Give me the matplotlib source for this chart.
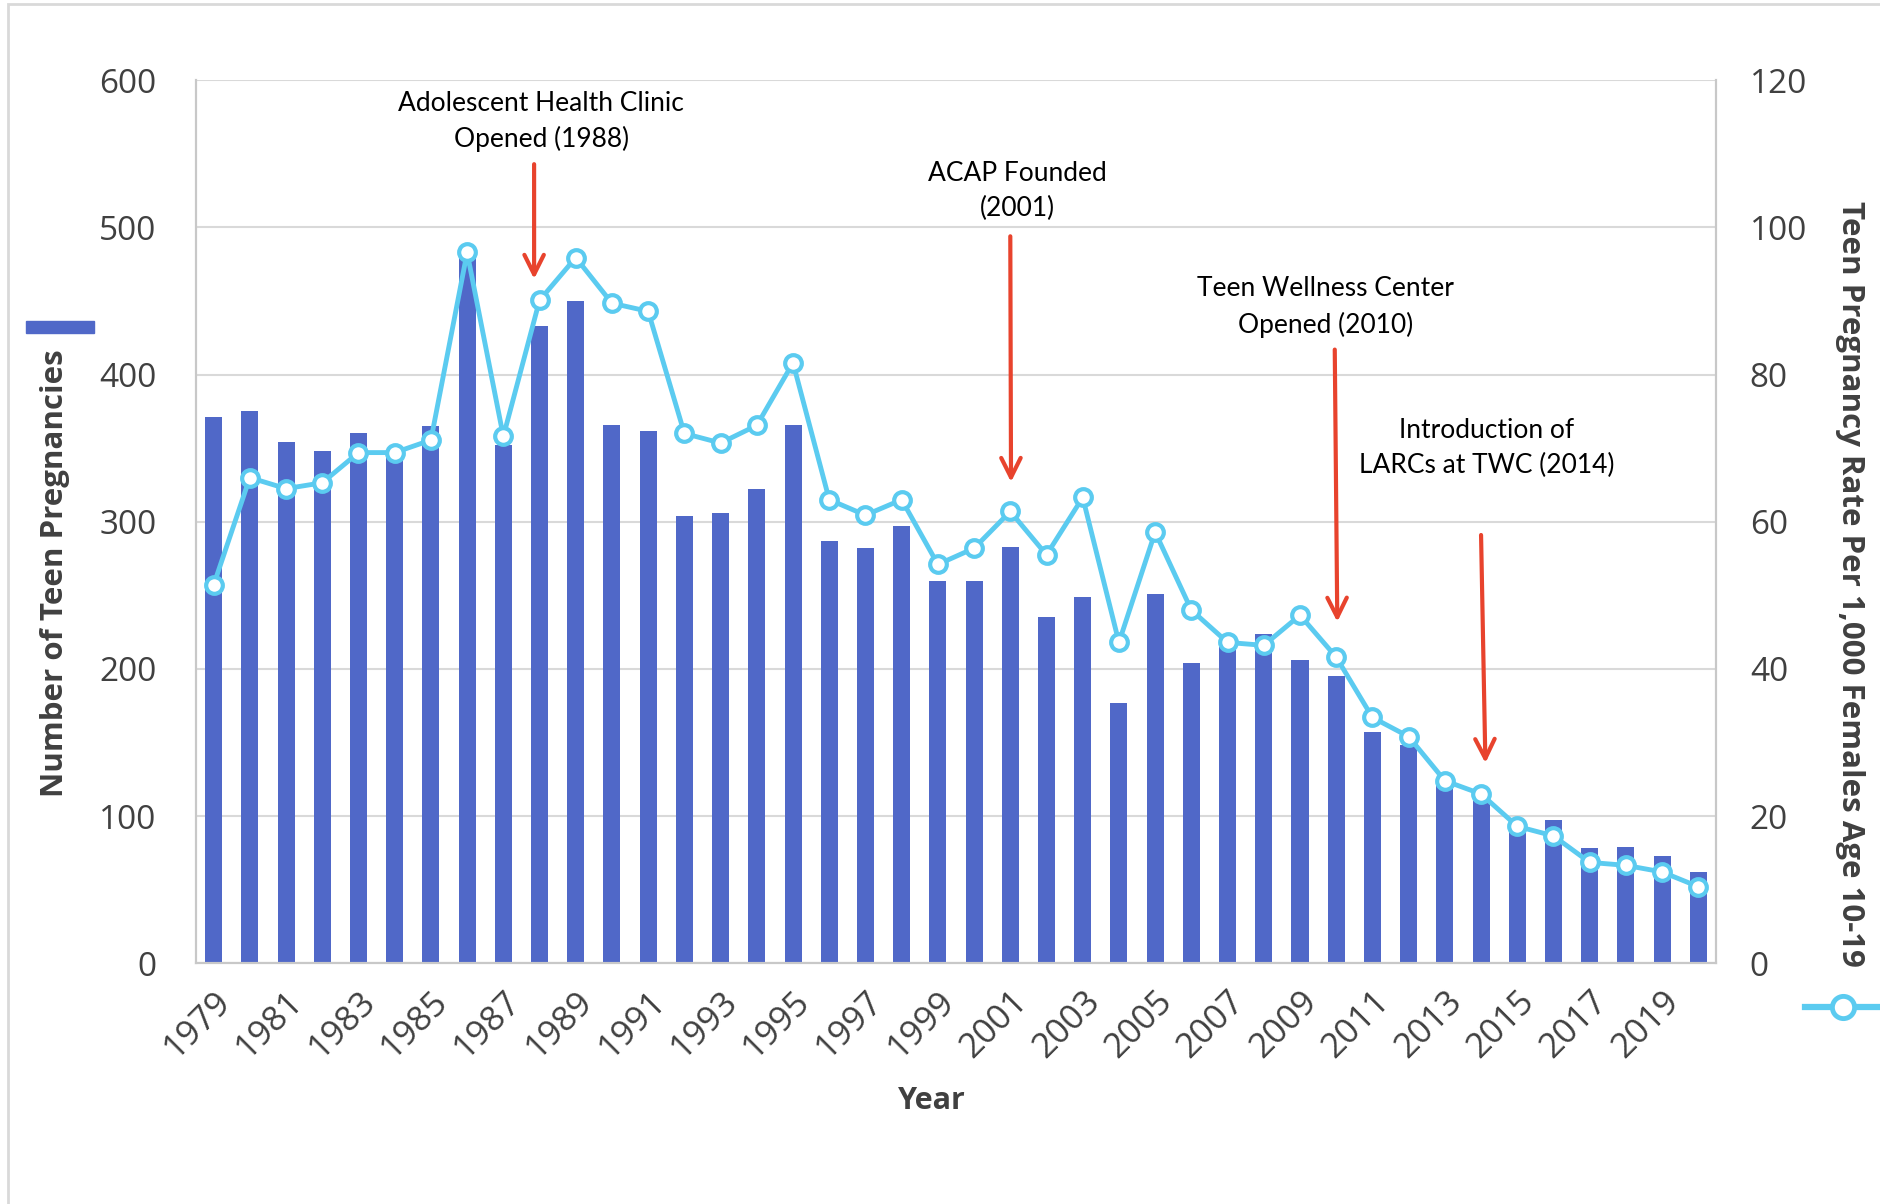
import matplotlib.pyplot as plt
from matplotlib.patches import Rectangle

years = list(range(1979, 2021))
pregnancies = [371, 375, 354, 348, 360, 347, 365, 481, 352, 433,
               450, 366, 362, 304, 306, 322, 366, 287, 282, 297,
               260, 260, 283, 235, 249, 177, 251, 204, 215, 224,
               206, 195, 157, 148, 121, 110, 90, 97, 78, 79,
               73, 62]
rate = [51.4, 66.0, 64.5, 65.3, 69.4, 69.4, 71.1, 96.6, 71.6, 90.1,
        95.9, 89.7, 88.6, 72.0, 70.7, 73.1, 81.6, 63.0, 60.9, 63.0,
        54.2, 56.4, 61.4, 55.5, 63.3, 43.6, 58.6, 48.0, 43.6, 43.2,
        47.3, 41.6, 33.4, 30.8, 24.8, 23.0, 18.6, 17.3, 13.7, 13.3,
        12.4, 10.4]
tick_labels = [str(y) for y in years[::2]]

events = ["Adolescent Health Clinic\nOpened (1988)",
          "ACAP Founded\n(2001)",
          "Teen Wellness Center\nOpened (2010)",
          "Introduction of\nLARCs at TWC (2014)"]
event_text_xy = [(9.05, 572), (22.2, 525), (30.7, 446), (35.15, 350)]
event_arrow = [((8.85, 543), (8.85, 465)),
               ((22.0, 494), (22.02, 327)),
               ((30.96, 417), (31.03, 232)),
               ((35.0, 291), (35.12, 136))]

bar_color = '#5068C8'
line_color = '#5BCBF0'
text_gray = '#404040'
grid_gray = '#D9D9D9'

plt.rcParams['font.family'] = ['Open Sans', 'DejaVu Sans']

fig = plt.figure(figsize=(18.8, 12.04), dpi=100)
ax = fig.add_axes([0.104, 0.2, 0.809, 0.7333])
ax2 = ax.twinx()

x = list(range(len(years)))
ax.bar(x, pregnancies, width=0.47, color=bar_color, zorder=2)
ax2.plot(x, rate, color=line_color, lw=3.5, marker='o', markersize=12,
         markerfacecolor='white', markeredgecolor=line_color,
         markeredgewidth=3, zorder=3)

ax.set_xlim(-0.5, len(years) - 0.5)
ax.set_ylim(0, 600)
ax2.set_ylim(0, 120)
ax.set_yticks(range(0, 601, 100))
ax2.set_yticks(range(0, 121, 20))
ax.set_xticks(x[::2])
ax.set_xticklabels(tick_labels, rotation=45, ha='right', rotation_mode='anchor')

ax.grid(axis='y', color=grid_gray, lw=1.5, zorder=0)
ax.set_axisbelow(True)
for a in (ax, ax2):
    for s in a.spines.values():
        s.set_color('#C8C8C8')
        s.set_linewidth(1.5)
    a.spines['top'].set_visible(False)
    a.tick_params(length=0, labelsize=24, labelcolor=text_gray)
ax.tick_params(axis='y', pad=28)
ax2.tick_params(axis='y', pad=24)
ax.tick_params(axis='x', pad=15, labelsize=25)

fig.text(0.4956, 0.0858, 'Year', fontsize=22, fontweight='bold', color=text_gray,
         ha='center', va='center')
fig.text(0.029, 0.524, 'Number of Teen Pregnancies', rotation=90, fontsize=22.5,
         fontweight='bold', color=text_gray, ha='center', va='center')
fig.text(0.984, 0.515, 'Teen Pregnancy Rate Per 1,000 Females Age 10-19',
         rotation=-90, fontsize=22.5, fontweight='bold', color=text_gray,
         ha='center', va='center')

# legend keys beside the axis titles
fig.add_artist(Rectangle((26 / 1880, 1 - 333 / 1204), 68 / 1880, 12 / 1204,
                         transform=fig.transFigure, color=bar_color))
fig.add_artist(plt.Line2D([1805 / 1880, 1880 / 1880], [1 - 1007 / 1204] * 2,
                          transform=fig.transFigure, color=line_color, lw=4.5))
fig.add_artist(plt.Line2D([1843 / 1880], [1 - 1007 / 1204],
                          transform=fig.transFigure, marker='o', markersize=16,
                          markerfacecolor='white', markeredgecolor=line_color,
                          markeredgewidth=3.5, lw=0))

for txt, (tx, ty), (start, end) in zip(events, event_text_xy, event_arrow):
    ax.text(tx, ty, txt, ha='center', va='center', fontsize=19,
            color='black', linespacing=1.5, zorder=5,
            family=['Lato', 'DejaVu Sans'])
    ax.annotate('', xy=end, xytext=start,
                arrowprops=dict(arrowstyle='->', color='#E8432D', lw=3,
                                mutation_scale=35, shrinkA=0, shrinkB=0),
                zorder=5)

# thin frame round the chart
fig.add_artist(Rectangle((8 / 1880, -0.01), 1.1, 1 - 4 / 1204 + 0.01,
                         transform=fig.transFigure, fill=False,
                         edgecolor='#D9D9D9', lw=2))

plt.savefig('out.png', dpi=100)
